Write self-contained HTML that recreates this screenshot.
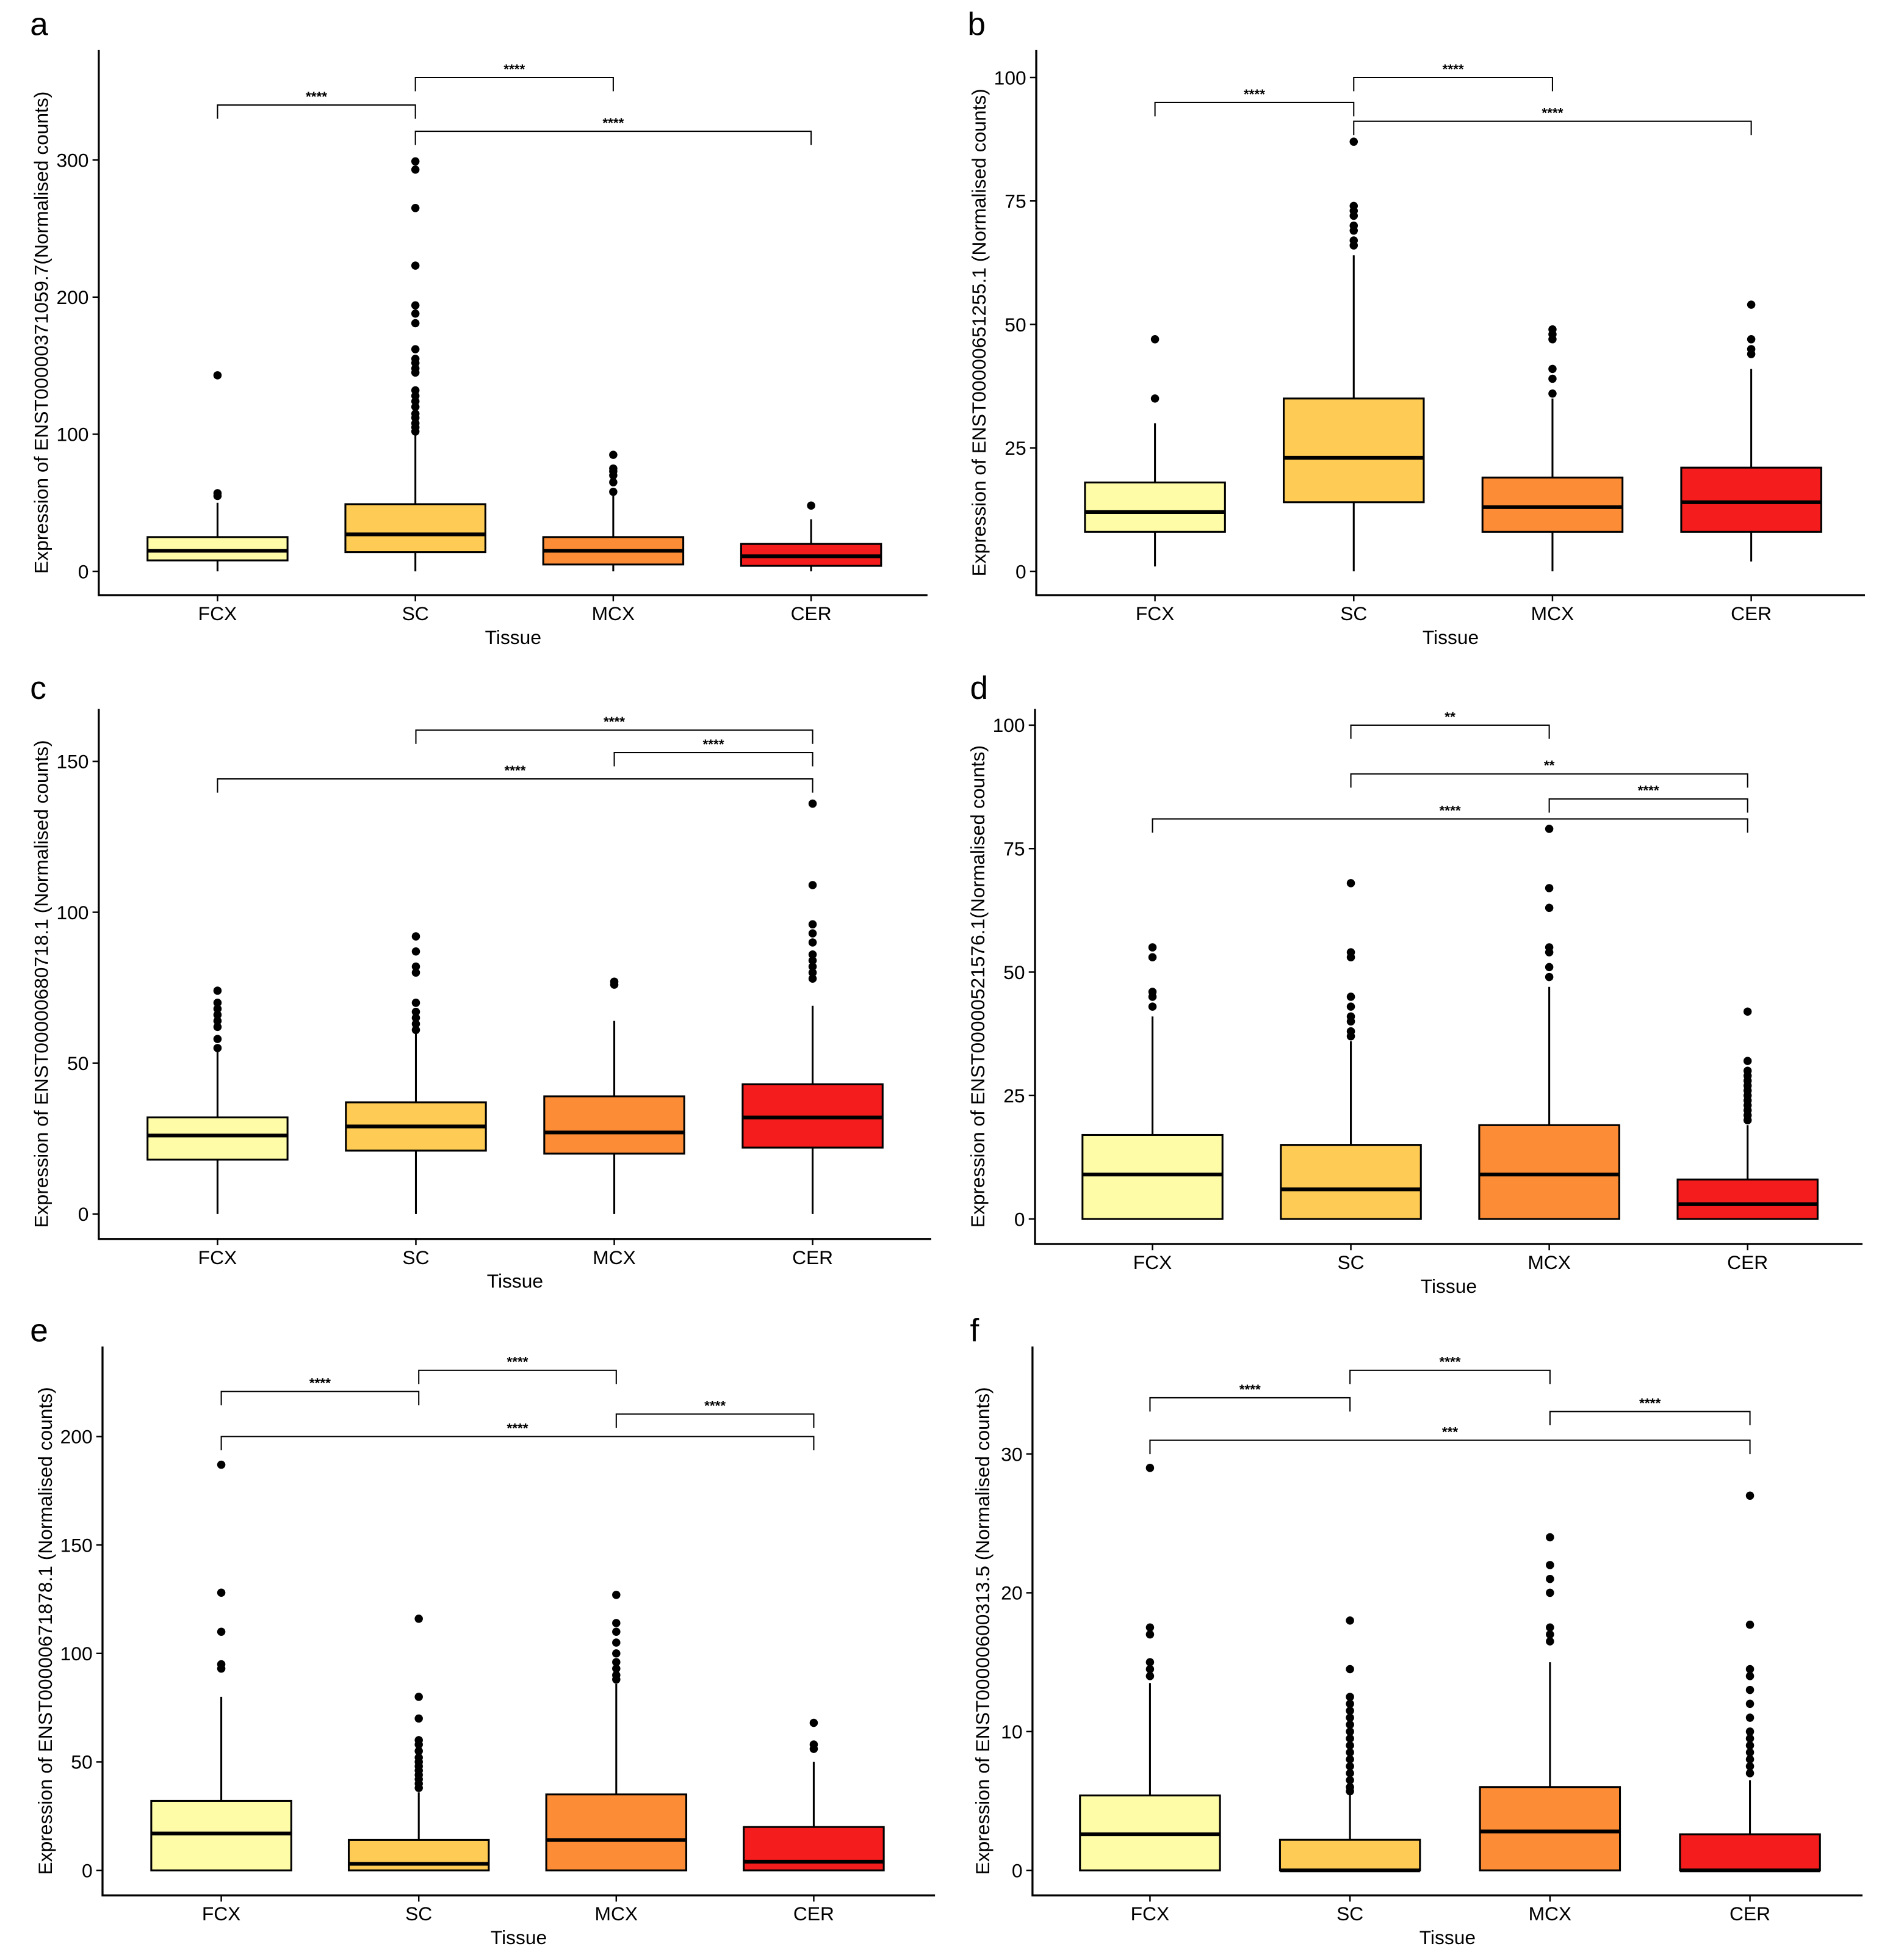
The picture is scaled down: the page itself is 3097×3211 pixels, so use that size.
<!DOCTYPE html>
<html><head><meta charset="utf-8"><style>
html,body{margin:0;padding:0;background:#fff;}
svg{display:block;font-family:"Liberation Sans",Arial,sans-serif;}
</style></head><body>
<svg id="fig" width="3097" height="3211" viewBox="0 0 1512 1567.7" xmlns="http://www.w3.org/2000/svg"></svg>
<script>
const categories = ["FCX","SC","MCX","CER"];
const colors = ["#FFFCA8","#FECB55","#FD8C36","#F41C1C"];
// box stats: [lowWhisker, q1, median, q3, highWhisker]
const boxA = [[0,8,15,25,50],[0,14,27,49,100],[0,5,15,25,55],[0,4,11,20,38]];
const outA = [[55,57,143],[102,105,108,112,115,120,124,128,132,145,148,152,155,162,181,188,194,223,265,293,299],[58,65,70,73,75,85],[48]];
const boxB = [[1,8,12,18,30],[0,14,23,35,64],[0,8,13,19,35],[2,8,14,21,41]];
const outB = [[35,47],[66,67,69,70,72,73,74,87],[36,39,41,47,48,49],[44,45,47,54]];
const boxC = [[0,18,26,32,54],[0,21,29,37,60],[0,20,27,39,64],[0,22,32,43,69]];
const outC = [[55,58,62,64,66,68,70,74],[61,63,65,67,70,80,82,87,92],[76,77],[78,80,82,84,86,90,93,96,109,136]];
const boxD = [[0,0,9,17,41],[0,0,6,15,36],[0,0,9,19,47],[0,0,3,8,19]];
const outD = [[43,45,46,53,55],[37,38,40,41,43,45,53,54,68],[49,51,54,55,63,67,79],[20,21,22,23,24,25,26,27,28,29,30,32,42]];
const boxE = [[0,0,17,32,80],[0,0,3,14,36],[0,0,14,35,86],[0,0,4,20,50]];
const outE = [[93,95,110,128,187],[38,40,42,44,46,48,50,52,55,58,60,70,80,116],[88,90,93,96,100,105,110,114,127],[56,58,68]];
const boxF = [[0,0,2.6,5.4,13.5],[0,0,0,2.2,5.5],[0,0,2.8,6,15],[0,0,0,2.6,6.5]];
const outF = [[14,14.5,15,17,17.5,29],[5.7,6,6.5,7,7.5,8,8.5,9,9.5,10,10.5,11,11.5,12,12.5,14.5,18],[16.5,17,17.5,20,21,22,24],[7,7.5,8,8.5,9,9.5,10,11,12,13,14,14.5,17.7,27]];
const ticksA=[0,100,200,300], ticksB=[0,25,50,75,100], ticksC=[0,50,100,150], ticksD=[0,25,50,75,100], ticksE=[0,50,100,150,200], ticksF=[0,10,20,30];
// comparisons: [i, j, label]
const sigA=[[0,1,"****"],[1,2,"****"],[1,3,"****"]];
const sigB=[[0,1,"****"],[1,2,"****"],[1,3,"****"]];
const sigC=[[1,3,"****"],[2,3,"****"],[0,3,"****"]];
const sigD=[[1,2,"**"],[1,3,"**"],[2,3,"****"],[0,3,"****"]];
const sigE=[[0,1,"****"],[1,2,"****"],[2,3,"****"],[0,3,"****"]];
const sigF=[[0,1,"****"],[1,2,"****"],[2,3,"****"],[0,3,"***"]];

const NS="http://www.w3.org/2000/svg";
const svg=document.getElementById('fig');
function mk(tag,attrs,parent,text){const e=document.createElementNS(NS,tag);for(const k in attrs)e.setAttribute(k,attrs[k]);if(text!==undefined)e.textContent=text;(parent||svg).appendChild(e);return e;}

const panels=[
 {id:"a",box:boxA,out:outA,ticks:ticksA,sig:sigA,sigY:[84,62,105],ax:79,top:40,bot:476,right:742,y0:457,yv:300,yp:128,x0:174,dx:158.3,title:"Expression of ENST00000371059.7(Normalised counts)",tx:33,lx:24,ly:28},
 {id:"b",box:boxB,out:outB,ticks:ticksB,sig:sigB,sigY:[82,62,97],ax:829,top:40,bot:476,right:1492,y0:457,yv:100,yp:62,x0:924,dx:159,title:"Expression of ENST00000651255.1 (Normalised counts)",tx:783,lx:774,ly:28},
 {id:"c",box:boxC,out:outC,ticks:ticksC,sig:sigC,sigY:[584,602,623],ax:79,top:567,bot:991,right:745,y0:971,yv:150,yp:609,x0:174,dx:158.7,title:"Expression of ENST00000680718.1 (Normalised counts)",tx:33,lx:24,ly:559},
 {id:"d",box:boxD,out:outD,ticks:ticksD,sig:sigD,sigY:[580,619,639,655],ax:828,top:567,bot:995,right:1490,y0:975,yv:100,yp:580,x0:922,dx:158.7,title:"Expression of ENST00000521576.1(Normalised counts)",tx:782,lx:776,ly:559},
 {id:"e",box:boxE,out:outE,ticks:ticksE,sig:sigE,sigY:[1113,1096,1131,1149],ax:82,top:1077,bot:1516,right:748,y0:1496,yv:200,yp:1149,x0:177,dx:158,title:"Expression of ENST00000671878.1 (Normalised counts)",tx:36,lx:24,ly:1073},
 {id:"f",box:boxF,out:outF,ticks:ticksF,sig:sigF,sigY:[1118,1096,1129,1152],ax:826,top:1077,bot:1516,right:1490,y0:1496,yv:30,yp:1163,x0:920,dx:160,title:"Expression of ENST00000600313.5 (Normalised counts)",tx:786,lx:776,ly:1073}
];

panels.forEach(p=>{
 const g=mk('g',{});
 
 
 const y=v=>p.y0-(v/p.yv)*(p.y0-p.yp);
 const x=i=>p.x0+i*p.dx;
 const bw=112;
 const lab=mk('text',{x:p.lx,y:p.ly,'font-size':26},g,p.id);
 
 
 const axes=mk('path',{d:`M${p.ax},${p.top}V${p.bot}H${p.right}`,fill:'none',stroke:'#000','stroke-width':1.6},g);
 
 
 p.ticks.forEach(t=>{
  mk('line',{x1:p.ax-5,x2:p.ax,y1:y(t),y2:y(t),stroke:'#000','stroke-width':1.2},g);
  const tl=mk('text',{x:p.ax-8,y:y(t)+5.5,'font-size':15.5,'text-anchor':'end'},g,String(t));
  
  
 });
 categories.forEach((c,i)=>{
  mk('line',{x1:x(i),x2:x(i),y1:p.bot,y2:p.bot+5,stroke:'#000','stroke-width':1.2},g);
  const cl=mk('text',{x:x(i),y:p.bot+20,'font-size':15.5,'text-anchor':'middle'},g,c);
  
  
  const b=p.box[i];
  const bg=mk('g',{},g);
  
  
  mk('line',{x1:x(i),x2:x(i),y1:y(b[0]),y2:y(b[1]),stroke:'#000','stroke-width':1.5},bg);
  mk('line',{x1:x(i),x2:x(i),y1:y(b[3]),y2:y(b[4]),stroke:'#000','stroke-width':1.5},bg);
  mk('rect',{x:x(i)-bw/2,y:y(b[3]),width:bw,height:Math.max(0.5,y(b[1])-y(b[3])),fill:colors[i],stroke:'#000','stroke-width':1.5},bg);
  mk('line',{x1:x(i)-bw/2,x2:x(i)+bw/2,y1:y(b[2]),y2:y(b[2]),stroke:'#000','stroke-width':3},bg);
  p.out[i].forEach(v=>{
   const o=mk('circle',{cx:x(i),cy:y(v),r:3.3,fill:'#000'},bg);
   
   
  });
 });
 p.sig.forEach((s,k)=>{
  const yy=p.sigY[k];
  const sg=mk('g',{},g);
  
  
  mk('path',{d:`M${x(s[0])},${yy+11}V${yy}H${x(s[1])}V${yy+11}`,fill:'none',stroke:'#000','stroke-width':1},sg);
  mk('text',{x:(x(s[0])+x(s[1]))/2,y:yy-3,'font-size':11,'text-anchor':'middle','font-weight':'bold'},sg,s[2]);
 });
 const xt=mk('text',{x:(p.ax+p.right)/2,y:p.bot+39,'font-size':15.5,'text-anchor':'middle'},g,'Tissue');
 
 
 const cy=(p.top+p.bot)/2+8;
 const yt=mk('text',{x:p.tx,y:cy,'font-size':15.5,'text-anchor':'middle',transform:`rotate(-90 ${p.tx} ${cy})`,dy:'0.35em'},g,p.title);
 
 
});
</script>
</body></html>
